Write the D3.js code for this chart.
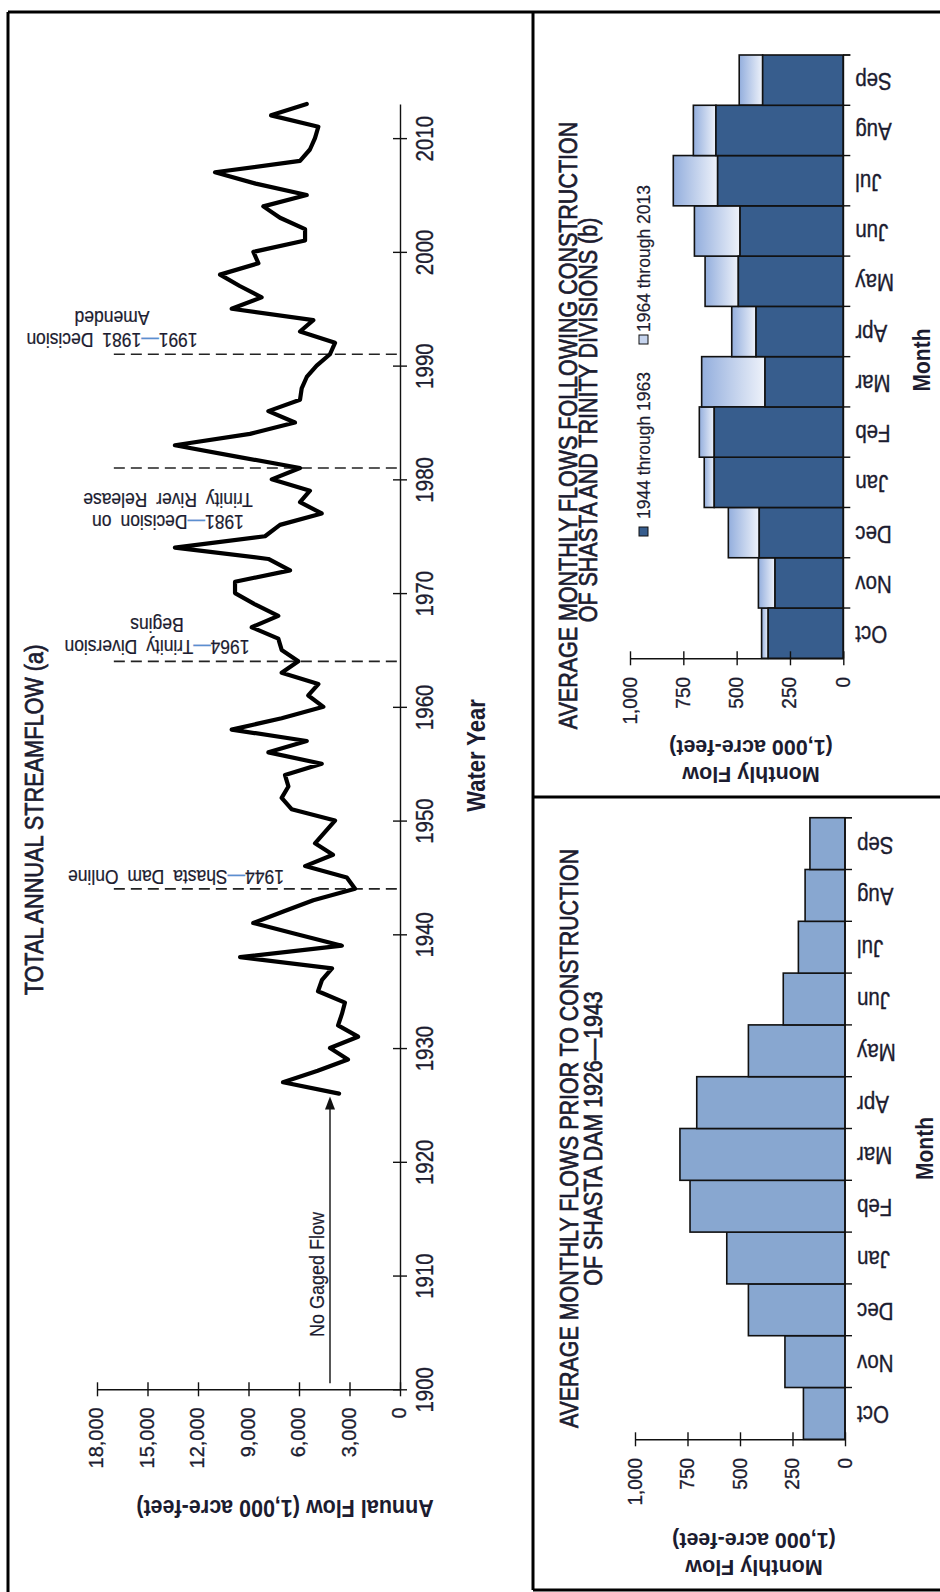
<!DOCTYPE html>
<html><head><meta charset="utf-8">
<script src="https://cdn.jsdelivr.net/npm/d3@7"></script>
<style>
body{margin:0;background:#fff;}
svg{display:block;font-family:"Liberation Sans",Arial,sans-serif;}
</style></head><body>
<svg id="c" width="940" height="1592"></svg>
<script>
// ---------------- DATA ----------------
const years = [1926,1927,1928,1929,1930,1931,1932,1933,1934,1935,1936,1937,1938,1939,1940,1941,1942,1943,1944,1945,
  1946,1947,1948,1949,1950,1951,1952,1953,1954,1955,1956,1957,1958,1959,1960,1961,1962,1963,1964,1965,
  1966,1967,1968,1969,1970,1971,1972,1973,1974,1975,1976,1977,1978,1979,1980,1981,1982,1983,1984,1985,
  1986,1987,1988,1989,1990,1991,1992,1993,1994,1995,1996,1997,1998,1999,2000,2001,2002,2003,2004,2005,
  2006,2007,2008,2009,2010,2011,2012,2013];
const annualFlow = [3620,6950,4890,3090,4160,2490,3680,3450,3270,4870,4630,4040,9500,3450,6120,8720,6930,5150,2670,3160,
  5640,3980,5050,4450,3860,6440,7030,6630,6830,4650,7820,5540,10000,7030,4550,5450,4850,7030,6040,7030,
  7230,8810,7230,8610,9800,9800,6530,7820,13370,8020,7130,4650,5940,5350,7620,5940,9700,13370,8910,6240,
  7820,5940,5840,5540,4950,4160,3860,5940,5150,10000,8220,9520,10690,8410,8710,5640,5640,7130,8120,5540,
  8570,10990,5940,5350,5050,4850,7660,5540];
const flowTicks = [0,3000,6000,9000,12000,15000,18000];
const yearTicks = [1900,1910,1920,1930,1940,1950,1960,1970,1980,1990,2000,2010];
const annotationYears = [1944,1964,1981,1991];
const annotationText = [["1944","Shasta Dam Online",""],["1964","Trinity Diversion","Begins"],
  ["1981","Decision on","Trinity River Release"],["1991","1981 Decision","Amended"]];
const months = ["Oct","Nov","Dec","Jan","Feb","Mar","Apr","May","Jun","Jul","Aug","Sep"];
const preShasta = [198,286,460,563,738,786,706,460,294,222,190,167];
const flows1944to1963 = [352,320,394,605,605,367,409,492,484,589,597,378];
const flows1964to2013 = [383,398,539,652,675,664,523,648,698,797,703,488];
const monthlyTicks = [0,250,500,750,1000];

// ---------------- SETUP ----------------
const svg = d3.select("#c");
const INK = "#1c1c30";
const FONT = "Liberation Sans, Arial, sans-serif";

function label(g, x, y, angle, txt, o = {}) {
  const t = g.append("text")
    .attr("transform", `translate(${x},${y}) rotate(${angle}) scale(1,${o.stretch ?? 1.15})`)
    .attr("text-anchor", o.anchor || "middle")
    .attr("font-size", o.size || 18)
    .attr("font-weight", o.weight || "normal")
    .attr("font-family", FONT)
    .attr("fill", INK);
  if (!o.weight) t.attr("stroke", INK).attr("stroke-width", o.sw ?? 0.35);
  if (o.ws) t.attr("word-spacing", o.ws);
  if (Array.isArray(txt)) {
    txt.forEach((s, i) => t.append("tspan").attr("x", 0).attr("dy", i === 0 ? 0 : (o.lh || 22)).text(s));
  } else t.text(txt);
  return t;
}

const defs = svg.append("defs");
const grad = defs.append("linearGradient").attr("id", "lightGrad").attr("x1", 0).attr("x2", 1).attr("y1", 0).attr("y2", 0);
grad.append("stop").attr("offset", "0%").attr("stop-color", "#93aedd");
grad.append("stop").attr("offset", "100%").attr("stop-color", "#eef2fa");

// ---------------- FRAME ----------------
const frame = svg.append("g").attr("stroke", "#000").attr("stroke-width", 3);
[[8,12,940,12],[8,12,8,1592],[533,12,533,1590],[533,797,940,797],[533,1590,940,1590]]
  .forEach(([x1,y1,x2,y2]) => frame.append("line").attr("x1",x1).attr("y1",y1).attr("x2",x2).attr("y2",y2));

// ---------------- LEFT: ANNUAL STREAMFLOW ----------------
const yS = d3.scaleLinear().domain([1900, 2013]).range([1389.3, 104]);
const xS = d3.scaleLinear().domain([0, 18000]).range([400, 97]);

const ya = svg.append("g").attr("transform", "translate(400,0)")
  .call(d3.axisRight(yS).tickValues(yearTicks).tickSize(7).tickSizeOuter(0).tickFormat(d3.format("d")));
ya.select(".domain").attr("stroke", "#111").attr("stroke-width", 1.4);
ya.selectAll(".tick line").attr("x1", -7).attr("x2", 7).attr("stroke", "#111").attr("stroke-width", 1.4);
ya.selectAll(".tick text").attr("x", null).attr("dy", null)
  .attr("text-anchor", "middle").attr("transform", "translate(33,0) rotate(-90) scale(1,1.2)")
  .attr("font-size", 20.5).attr("font-family", FONT).attr("fill", INK).attr("stroke", INK).attr("stroke-width", 0.3);

const xa = svg.append("g").attr("transform", "translate(0,1389.3)")
  .call(d3.axisBottom(xS).tickValues(flowTicks).tickSize(7).tickSizeOuter(0).tickFormat(d3.format(",")));
xa.select(".domain").attr("stroke", "#111").attr("stroke-width", 1.4);
xa.selectAll(".tick line").attr("y1", -7).attr("y2", 7).attr("stroke", "#111").attr("stroke-width", 1.4);
xa.selectAll(".tick text").attr("y", null).attr("dy", null)
  .attr("text-anchor", "end").attr("transform", "translate(5.5,18) rotate(-90) scale(1,1.05)")
  .attr("font-size", 20).attr("font-family", FONT).attr("fill", INK).attr("stroke", INK).attr("stroke-width", 0.3);

// annotation dashed lines
svg.append("g").selectAll("line").data(annotationYears).join("line")
  .attr("x1", xS(17000)).attr("x2", xS(0))
  .attr("y1", d => yS(d)).attr("y2", d => yS(d))
  .attr("stroke", "#222").attr("stroke-width", 1.6).attr("stroke-dasharray", "11,6");

// annual line
const series = years.map((y, i) => ({ y, v: annualFlow[i] }));
svg.append("path").datum(series)
  .attr("d", d3.line().x(d => xS(d.v)).y(d => yS(d.y)))
  .attr("fill", "none").attr("stroke", "#000").attr("stroke-width", 4.2)
  .attr("stroke-linejoin", "round").attr("stroke-linecap", "round");

// annotation labels (upside-down)
const annLayout = [{ cx: 176, base: 870 }, { cx: 157, base: 640 }, { cx: 168, base: 515 }, { cx: 112, base: 333 }];
annotationText.forEach((lines, i) => {
  const L = annLayout[i];
  const t = svg.append("text")
    .attr("transform", `translate(${L.cx},${L.base}) rotate(180) scale(1,1.12)`)
    .attr("text-anchor", "middle").attr("font-size", 17.5).attr("font-family", FONT)
    .attr("word-spacing", 4).attr("fill", INK).attr("stroke", INK).attr("stroke-width", 0.2);
  const t1 = t.append("tspan").attr("x", 0).attr("dy", 0);
  t1.append("tspan").text(lines[0]);
  t1.append("tspan").attr("fill", "#5b8fd0").attr("stroke", "#5b8fd0").text("—");
  t1.append("tspan").text(lines[1]);
  if (lines[2]) t.append("tspan").attr("x", 0).attr("dy", 19.6).text(lines[2]);
});

// No Gaged Flow arrow
const arrowX = 330;
svg.append("line").attr("x1", arrowX).attr("x2", arrowX)
  .attr("y1", yS(1900) - 6).attr("y2", yS(1926) + 14)
  .attr("stroke", "#111").attr("stroke-width", 1.4);
const tipY = yS(1926) + 3;
svg.append("path").attr("d", `M${arrowX},${tipY} L${arrowX - 5},${tipY + 13} L${arrowX + 5},${tipY + 13} Z`).attr("fill", "#111");
label(svg, 324, 1337, -90, "No Gaged Flow", { anchor: "start", size: 18, stretch: 1.1, sw: 0.2 });

label(svg, 485, 755.5, -90, "Water Year", { size: 22, weight: "bold", stretch: 1.13 });
label(svg, 285, 1500, 180, "Annual Flow (1,000 acre-feet)", { size: 21.5, weight: "bold", stretch: 1.12 });
label(svg, 43, 820, -90, "TOTAL ANNUAL  STREAMFLOW (a)", { size: 21.7, stretch: 1.15, sw: 0.6 });

// ---------------- MONTHLY CHARTS ----------------
function monthlyAxes(cfg, band, vS) {
  const g = svg.append("g");
  g.append("line").attr("x1", cfg.axisX).attr("x2", cfg.axisX).attr("y1", cfg.top).attr("y2", cfg.bottom)
    .attr("stroke", "#111").attr("stroke-width", 1.6);
  const bounds = months.map(m => band(m)).concat([cfg.top]);
  g.selectAll(".bt").data(bounds).join("line").attr("class", "bt")
    .attr("x1", cfg.axisX).attr("x2", cfg.axisX + 7).attr("y1", d => d).attr("y2", d => d)
    .attr("stroke", "#111").attr("stroke-width", 1.4);
  months.forEach(m => {
    label(g, cfg.axisX + 12, band(m) + band.bandwidth() / 2 - 7, 180, m, { anchor: "end", size: 20.5, stretch: 1.13, sw: 0.3 });
  });
  const va = svg.append("g").attr("transform", `translate(0,${cfg.bottom})`)
    .call(d3.axisBottom(vS).tickValues(monthlyTicks).tickSize(7).tickSizeOuter(0).tickFormat(d3.format(",")));
  va.select(".domain").attr("stroke", "#111").attr("stroke-width", 1.4);
  va.selectAll(".tick line").attr("y1", -7).attr("y2", 7).attr("stroke", "#111").attr("stroke-width", 1.4);
  va.selectAll(".tick text").attr("y", null).attr("dy", null)
    .attr("text-anchor", "end").attr("transform", "translate(6,18.7) rotate(-90) scale(1,1.05)")
    .attr("font-size", 19).attr("font-family", FONT).attr("fill", INK).attr("stroke", INK).attr("stroke-width", 0.3);
  label(svg, cfg.monthX, cfg.monthY, -90, "Month", { size: 21, weight: "bold", stretch: 1.15 });
  label(svg, cfg.mfX, cfg.mfY, 180, ["Monthly Flow", "(1,000 acre-feet)"], { size: 21.5, weight: "bold", stretch: 1.0, lh: 27 });
}

// Bottom-right: pre-Shasta
{
  const cfg = { axisX: 845, top: 817.7, bottom: 1439.3, v1000: 635, monthX: 933, monthY: 1148.5, mfX: 754, mfY: 1560 };
  const band = d3.scaleBand().domain(months).range([cfg.bottom, cfg.top]).padding(0);
  const vS = d3.scaleLinear().domain([0, 1000]).range([cfg.axisX, cfg.v1000]);
  svg.append("g").selectAll("rect").data(months.map((m, i) => ({ m, v: preShasta[i] }))).join("rect")
    .attr("x", d => vS(d.v)).attr("width", d => cfg.axisX - vS(d.v))
    .attr("y", d => band(d.m)).attr("height", band.bandwidth())
    .attr("fill", "#88a7d0").attr("stroke", "#111").attr("stroke-width", 1.6);
  monthlyAxes(cfg, band, vS);
  label(svg, 578, 1138.5, -90, "AVERAGE  MONTHLY FLOWS PRIOR TO CONSTRUCTION", { size: 21.4, stretch: 1.17, sw: 0.6 });
  label(svg, 602, 1138.5, -90, "OF SHASTA DAM 1926—1943", { size: 21.4, stretch: 1.17, sw: 0.6 });
}

// Top-right: post-Shasta
{
  const cfg = { axisX: 843.3, top: 55, bottom: 658.3, v1000: 630, monthX: 930, monthY: 360, mfX: 751, mfY: 767 };
  const band = d3.scaleBand().domain(months).range([cfg.bottom, cfg.top]).padding(0);
  const vS = d3.scaleLinear().domain([0, 1000]).range([cfg.axisX, cfg.v1000]);
  const data = months.map((m, i) => ({ m, a: flows1944to1963[i], b: flows1964to2013[i] }));
  svg.append("g").selectAll("rect").data(data).join("rect")
    .attr("x", d => vS(d.b)).attr("width", d => vS(d.a) - vS(d.b))
    .attr("y", d => band(d.m)).attr("height", band.bandwidth())
    .attr("fill", "url(#lightGrad)").attr("stroke", "#111").attr("stroke-width", 1.6);
  svg.append("g").selectAll("rect").data(data).join("rect")
    .attr("x", d => vS(d.a)).attr("width", d => cfg.axisX - vS(d.a))
    .attr("y", d => band(d.m)).attr("height", band.bandwidth())
    .attr("fill", "#375d8d").attr("stroke", "#111").attr("stroke-width", 1.6);
  monthlyAxes(cfg, band, vS);
  label(svg, 577, 425.5, -90, "AVERAGE  MONTHLY FLOWS FOLLOWING CONSTRUCTION", { size: 21.5, stretch: 1.17, sw: 0.6 });
  label(svg, 597, 420, -90, "OF SHASTA AND TRINITY DIVISIONS (b)", { size: 21.5, stretch: 1.17, sw: 0.6 });
  const lg = svg.append("g");
  lg.append("rect").attr("x", 639).attr("y", 527).attr("width", 9).attr("height", 9)
    .attr("fill", "#375d8d").attr("stroke", "#111").attr("stroke-width", 1);
  lg.append("rect").attr("x", 639).attr("y", 335).attr("width", 9).attr("height", 9)
    .attr("fill", "#c6d4ee").attr("stroke", "#111").attr("stroke-width", 1);
  label(lg, 650, 519, -90, "1944 through 1963", { anchor: "start", size: 17.5, stretch: 1.05, sw: 0.2 });
  label(lg, 650, 332, -90, "1964 through 2013", { anchor: "start", size: 17.5, stretch: 1.05, sw: 0.2 });
}
</script>
</body></html>
